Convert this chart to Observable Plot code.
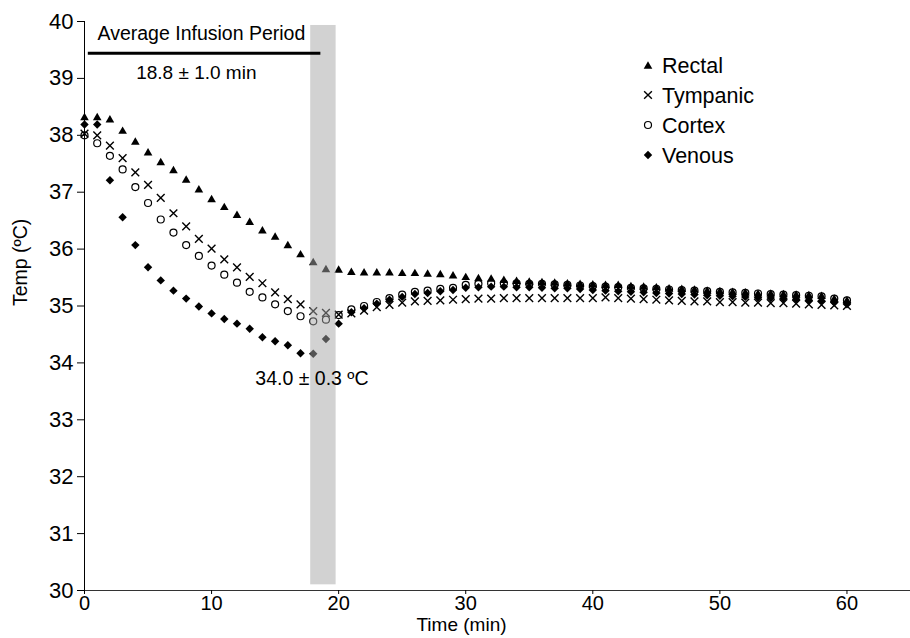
<!DOCTYPE html>
<html><head><meta charset="utf-8">
<script src="https://cdn.jsdelivr.net/npm/d3@7"></script>
<script src="https://cdn.jsdelivr.net/npm/@observablehq/plot@0.6"></script>
<style>
body{margin:0;background:#fff;}
#wrap{position:relative;width:910px;height:638px;font-family:"Liberation Sans",Arial,sans-serif;}
#legend{position:absolute;left:636px;top:48px;}
</style></head><body><div id="wrap"></div>
<script>
const minutes = [0,1,2,3,4,5,6,7,8,9,10,11,12,13,14,15,16,17,18,19,20,21,22,23,24,25,26,27,28,29,30,31,32,33,34,35,36,37,38,39,40,41,42,43,44,45,46,47,48,49,50,51,52,53,54,55,56,57,58,59,60];
const rectal = [38.33,38.33,38.29,38.09,37.90,37.71,37.54,37.40,37.23,37.06,36.89,36.75,36.61,36.49,36.34,36.23,36.08,35.92,35.78,35.66,
  35.65,35.61,35.60,35.60,35.60,35.59,35.59,35.58,35.57,35.55,35.52,35.50,35.49,35.47,35.45,35.44,35.43,35.42,35.41,35.40,
  35.39,35.38,35.38,35.36,35.35,35.34,35.32,35.31,35.30,35.28,35.27,35.26,35.25,35.23,35.23,35.22,35.21,35.20,35.19,35.14,35.11];
const tympanic = [38.03,38.00,37.82,37.60,37.35,37.13,36.90,36.63,36.40,36.18,36.01,35.82,35.68,35.51,35.40,35.24,35.12,35.03,34.91,34.88,
  34.85,34.87,34.92,34.98,35.02,35.06,35.08,35.09,35.10,35.11,35.12,35.13,35.13,35.14,35.14,35.14,35.14,35.14,35.14,35.14,
  35.14,35.15,35.14,35.13,35.12,35.11,35.10,35.09,35.08,35.08,35.07,35.07,35.06,35.06,35.05,35.05,35.04,35.03,35.02,35.01,35.00];
const cortex = [38.00,37.86,37.64,37.40,37.09,36.81,36.52,36.29,36.07,35.88,35.71,35.55,35.41,35.25,35.15,35.03,34.91,34.82,34.73,34.76,
  34.84,34.94,35.00,35.07,35.14,35.20,35.25,35.27,35.30,35.32,35.37,35.39,35.40,35.40,35.40,35.39,35.39,35.38,35.37,35.36,
  35.35,35.34,35.33,35.32,35.31,35.30,35.29,35.28,35.27,35.26,35.25,35.24,35.23,35.22,35.21,35.20,35.19,35.18,35.17,35.13,35.10];
const venous = [38.19,38.19,37.21,36.56,36.07,35.68,35.45,35.27,35.13,34.99,34.87,34.77,34.69,34.60,34.45,34.38,34.31,34.17,34.16,34.42,
  34.69,34.89,34.96,35.04,35.11,35.16,35.21,35.23,35.26,35.28,35.32,35.33,35.34,35.34,35.33,35.33,35.32,35.31,35.31,35.30,
  35.28,35.27,35.26,35.25,35.24,35.23,35.22,35.21,35.20,35.19,35.18,35.17,35.16,35.15,35.14,35.13,35.12,35.10,35.09,35.06,35.03];

const seriesNames = ["Rectal","Tympanic","Cortex","Venous"];
const xTicks = [0,10,20,30,40,50,60];
const yTicks = [30,31,32,33,34,35,36,37,38,39,40];
const infusionBand = [{start:17.8, end:19.8, low:30.1, high:39.93}];
const infusionLine = [{from:0.3, to:18.6, temp:39.44}];
const annotations = [
  {t:9.2, temp:39.79, text:"Average Infusion Period", size:19.5},
  {t:8.8, temp:39.09, text:"18.8 ± 1.0 min", size:19},
  {t:17.9, temp:33.73, text:"34.0 ± 0.3 ºC", size:19.5}
];
const xLabel = "Time (min)";
const yLabel = "Temp (ºC)";

const rows = (vals) => minutes.map((m,i)=>({t:m, temp:vals[i]}));
const dRectal = rows(rectal), dTymp = rows(tympanic), dCortex = rows(cortex), dVenous = rows(venous);

const FONT = "Liberation Sans, Arial, sans-serif";
const chart = Plot.plot({
  width: 910, height: 638,
  marginLeft: 84, marginRight: 0, marginTop: 21, marginBottom: 48,
  style: {fontFamily: FONT, fontSize: "22px", color: "black", background: "white"},
  x: {domain: [0, 65]},
  y: {domain: [30, 40]},
  marks: [
    Plot.dot(dRectal, {x:"t", y:"temp", symbol:"triangle", fill:"black", r:3.2, dy:1.2}),
    Plot.dot(dTymp, {x:"t", y:"temp", symbol:"times", stroke:"black", strokeWidth:1.4, r:3.6}),
    Plot.dot(dCortex, {x:"t", y:"temp", symbol:"circle", stroke:"black", fill:"none", strokeWidth:1.2, r:3.5}),
    Plot.dot(dVenous, {x:"t", y:"temp", symbol:"diamond2", fill:"black", stroke:"none", r:3.8}),
    Plot.rect(infusionBand, {x1:"start", x2:"end", y1:"low", y2:"high", fill:"#a6a6a6", fillOpacity:0.5}),
    Plot.ruleY(infusionLine, {x1:"from", x2:"to", y:"temp", stroke:"black", strokeWidth:3}),
    Plot.text(annotations, {x:"t", y:"temp", text:"text", fontSize:"size", fill:"black", textAnchor:"middle"}),
    Plot.ruleX([0], {y1:30, y2:40, stroke:"black"}),
    Plot.ruleY([30], {x1:0, x2:65, stroke:"#333"}),
    Plot.axisY({ticks: yTicks, tickSize: 7, tickPadding: 4, fontSize: 22, label: null, tickFormat: d=>d}),
    Plot.axisX({ticks: xTicks, tickSize: 4, tickPadding: 1, fontSize: 20, label: null, tickFormat: d=>d}),
    Plot.text([yLabel], {frameAnchor:"left", rotate:-90, dx:-64, fontSize:19.5, fill:"black"}),
    Plot.text([xLabel], {frameAnchor:"bottom", dx:-36, dy:40, fontSize:19, fill:"black"})
  ]
});
const wrap = document.getElementById("wrap");
wrap.appendChild(chart);

// legend
const legendSymbols = [
  {name: seriesNames[0], sym: d3.symbolTriangle, r:3.2, fill:"black", stroke:"none", sw:0, dy:1.2},
  {name: seriesNames[1], sym: d3.symbolTimes, r:3.6, fill:"none", stroke:"black", sw:1.4, dy:0},
  {name: seriesNames[2], sym: d3.symbolCircle, r:3.5, fill:"none", stroke:"black", sw:1.2, dy:0},
  {name: seriesNames[3], sym: d3.symbolDiamond2, r:3.8, fill:"black", stroke:"none", sw:0, dy:0}
];
const leg = d3.select(wrap).append("svg").attr("id","legend").attr("width",240).attr("height",130)
  .style("font-family", FONT).style("font-size","21.5px");
const g = leg.selectAll("g").data(legendSymbols).join("g")
  .attr("transform",(d,i)=>`translate(0,${17 + i*30})`);
g.append("path").attr("d", d=>d3.symbol(d.sym, Math.PI*d.r*d.r)())
  .attr("transform", d=>`translate(12,${d.dy})`)
  .attr("fill", d=>d.fill).attr("stroke", d=>d.stroke).attr("stroke-width", d=>d.sw);
g.append("text").attr("x",26).attr("dy","0.35em").text(d=>d.name);
</script>
</body></html>
